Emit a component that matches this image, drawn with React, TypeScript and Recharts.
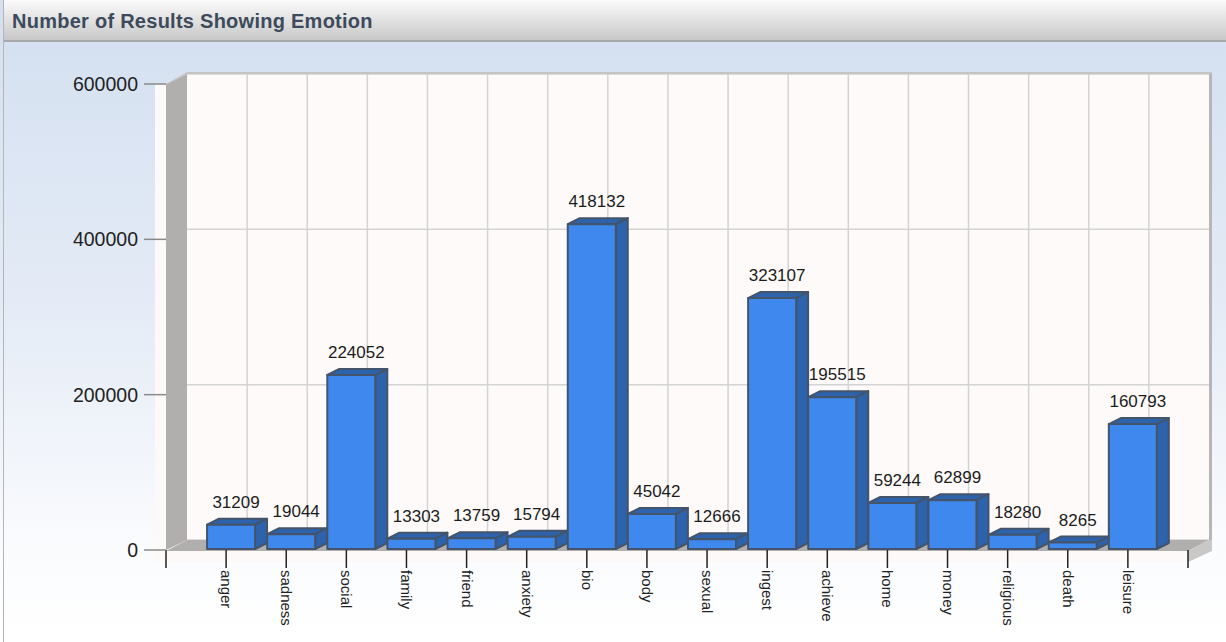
import { Bar, BarChart, LabelList, XAxis, YAxis, usePlotArea } from "recharts";

const categories = [
  "anger", "sadness", "social", "family", "friend", "anxiety", "bio", "body",
  "sexual", "ingest", "achieve", "home", "money", "religious", "death", "leisure",
];
const counts = [
  31209, 19044, 224052, 13303, 13759, 15794, 418132, 45042,
  12666, 323107, 195515, 59244, 62899, 18280, 8265, 160793,
];
const valueTicks = [0, 200000, 400000, 600000];
const valueMax = 600000;
const slotCount = categories.length + 1;
const slotTicks = Array.from({ length: slotCount + 1 }, (_, i) => i);

const rows = categories.map((name, i) => ({ slot: i + 1, name, count: counts[i] }));

// offset of the back wall from the front plane
const WALL_DX = 21;
const WALL_DY = 10;
// bars sit part way into the depth of the plot
const BAR_DX = 5;
const BAR_LIFT = 1;
const BAR_SIDE_X = 12;
const BAR_SIDE_Y = 6;

function Walls() {
  const plot = usePlotArea();
  if (!plot) return null;
  const left = plot.x;
  const right = plot.x + plot.width;
  const top = plot.y;
  const bottom = plot.y + plot.height;
  const backLeft = left + WALL_DX;
  const backRight = right + WALL_DX;
  const backTop = top - WALL_DY;
  const backBottom = bottom - WALL_DY;
  return (
    <g>
      {/* pale front edge under and to the left of the floor */}
      <rect x={left - 11} y={top} width={11} height={plot.height + 12} fill="#fdf9f8" />
      <rect x={left} y={bottom} width={plot.width} height={12} fill="#fdf9f8" />
      <rect x={backLeft} y={backTop} width={plot.width} height={plot.height} fill="#fefafa" />
      {valueTicks.map((v) => {
        const y = backBottom - (v / valueMax) * plot.height;
        return <line key={v} x1={backLeft} x2={backRight} y1={y} y2={y} stroke="#d3d3d3" strokeWidth={1.5} />;
      })}
      {slotTicks.slice(1, -1).map((s) => {
        const x = backLeft + (s / slotCount) * plot.width;
        return <line key={s} x1={x} x2={x} y1={backTop} y2={backBottom} stroke="#d3d3d3" strokeWidth={1.5} />;
      })}
      <polygon
        points={`${left},${top} ${backLeft},${backTop} ${backLeft},${backBottom} ${left},${bottom}`}
        fill="#b0afad"
      />
      <polygon
        points={`${left},${bottom + 1} ${backLeft},${backBottom} ${backRight},${backBottom} ${right},${bottom + 1}`}
        fill="#b0afad"
      />
      <rect x={backLeft} y={backTop - 2} width={plot.width + 3} height={2} fill="#c4c4c4" />
      <rect x={backRight} y={backTop} width={3} height={plot.height + 1} fill="#b7b6b4" />
      {/* slanted end of the floor slab */}
      <polygon
        points={`${right},${bottom + 1} ${backRight},${backBottom} ${backRight + 3},${backBottom} ${backRight + 3},${backBottom + 11} ${right},${bottom + 12}`}
        fill="#c9c8c6"
      />
      <polygon
        points={`${left},${top} ${backLeft},${backTop - 2} ${backLeft + 4},${backTop - 2} ${left + 2},${top}`}
        fill="#c4c4c4"
      />
    </g>
  );
}

function Bar3D(props: any) {
  const { x, width, height } = props;
  const y = props.y - BAR_LIFT;
  const fx = x + BAR_DX;
  const outline = { stroke: "#44546a", strokeWidth: 2, strokeLinejoin: "round" as const };
  return (
    <g>
      <polygon
        points={`${fx},${y} ${fx + BAR_SIDE_X},${y - BAR_SIDE_Y} ${fx + width + BAR_SIDE_X},${y - BAR_SIDE_Y} ${fx + width},${y}`}
        fill="#2d62ac"
        {...outline}
      />
      <polygon
        points={`${fx + width},${y} ${fx + width + BAR_SIDE_X},${y - BAR_SIDE_Y} ${fx + width + BAR_SIDE_X},${y + height - BAR_SIDE_Y} ${fx + width},${y + height}`}
        fill="#2d62ac"
        {...outline}
      />
      <rect x={fx} y={y} width={width} height={height} fill="#3f88ee" {...outline} />
    </g>
  );
}

function CountLabel(props: any) {
  const { x, y, width, value } = props;
  return (
    <text
      x={x + width / 2 + BAR_DX + BAR_SIDE_X / 2 - 1}
      y={y - 18}
      textAnchor="middle"
      fontSize={17}
      fill="#1c1c1c"
    >
      {value}
    </text>
  );
}

function CategoryTick(props: any) {
  const { x, y, payload } = props;
  return (
    <text
      transform={`translate(${x - 5},${y}) rotate(90)`}
      fontSize={15}
      fill="#222222"
      textAnchor="start"
    >
      {categories[payload.value - 1] ?? ""}
    </text>
  );
}

export default function App() {
  return (
    <div
      style={{
        position: "absolute",
        left: 0,
        top: 0,
        width: 1226,
        height: 642,
        overflow: "hidden",
        fontFamily: "'Liberation Sans', Arial, sans-serif",
        background: "linear-gradient(to bottom, #d5e1f1 40px, #e4ebf6 300px, #fbfcfe 560px, #ffffff 642px)",
      }}
    >
      <div
        style={{
          height: 38,
          paddingTop: 2,
          marginLeft: 3,
          borderLeft: "1px solid #b5b5b5",
          borderBottom: "2px solid #a9a9a9",
          background: "linear-gradient(to bottom, #fbfbfb, #c8c8c8)",
          color: "#3d4a5c",
          fontSize: 20,
          fontWeight: 700,
          letterSpacing: 0.26,
          lineHeight: "38px",
          paddingLeft: 8,
          boxSizing: "content-box",
        }}
      >
        Number of Results Showing Emotion
      </div>
      <div style={{ position: "absolute", left: 3, top: 40, bottom: 0, width: 1, background: "#b5b5b5" }} />
      <div style={{ position: "absolute", left: 0, top: 0 }}>
        <BarChart
          width={1226}
          height={642}
          data={rows}
          margin={{ top: 84, right: 38, bottom: 0, left: 0 }}
          barSize={48}
        >
          <Walls />
          <XAxis
            dataKey="slot"
            type="number"
            domain={[0, slotCount]}
            ticks={slotTicks}
            interval={0}
            axisLine={false}
            tick={<CategoryTick />}
            tickLine={{ stroke: "#222222", strokeWidth: 1.5 }}
            tickSize={18}
            height={92}
          />
          <YAxis
            type="number"
            domain={[0, valueMax]}
            ticks={valueTicks}
            axisLine={false}
            tick={{ fontSize: 19.5, fill: "#222222" }}
            tickLine={{ stroke: "#8a8a8a", strokeWidth: 1.5 }}
            tickSize={22}
            tickMargin={6}
            width={166}
          />
          <Bar dataKey="count" shape={<Bar3D />} isAnimationActive={false}>
            <LabelList dataKey="count" content={<CountLabel />} />
          </Bar>
        </BarChart>
      </div>
    </div>
  );
}
